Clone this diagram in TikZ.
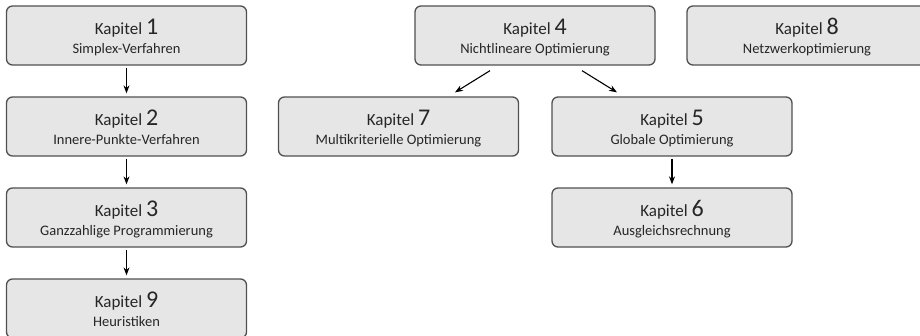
\documentclass[tikz,border=0pt]{standalone}
\usepackage{fontspec}
\setmainfont{Carlito}
\usetikzlibrary{arrows.meta}
\definecolor{boxfill}{HTML}{E6E6E6}
\definecolor{boxline}{HTML}{505050}
\definecolor{txt}{HTML}{262626}
\tikzset{
  chapbox/.style={draw=boxline, fill=boxfill, line width=1.3pt, rounded corners=6pt,
    minimum width=240pt, minimum height=59pt, inner sep=0pt},
  kaptxt/.style={anchor=base, inner sep=0pt, text=txt, font=\fontsize{17pt}{17pt}\selectfont},
  subtxt/.style={anchor=base, inner sep=0pt, text=txt, font=\fontsize{14.5pt}{14.5pt}\selectfont},
  arr/.style={-{Stealth[length=8pt,width=6pt]}, line width=1.1pt, draw=black},
}
\newcommand\mkchap[4]{%
  \node[chapbox] (#1) at (#2) {};
  \node[kaptxt] (#1k) at ([yshift=1pt]#1.center) {Kapitel {\fontsize{24pt}{24pt}\selectfont #3}};
  \node[subtxt] (#1s) at ([yshift=-18pt]#1.center) {#4};
}
\begin{document}
\begin{tikzpicture}[x=1pt,y=-1pt]
\useasboundingbox (0,0) rectangle (920,335);
\clip (0,0) rectangle (920,335);
\mkchap{b1}{126.5,35.5}{1}{Simplex-Verfahren}
\mkchap{b2}{126.5,126.5}{2}{Innere-Punkte-Verfahren}
\mkchap{b3}{126.5,217.5}{3}{Ganzzahlige Programmierung}
\mkchap{b9}{126.5,308.5}{9}{Heuristiken}
\mkchap{b4}{535,35.5}{4}{Nichtlineare Optimierung}
\mkchap{b8}{807,35.5}{8}{Netzwerkoptimierung}
\mkchap{b7}{398.5,126.5}{7}{Multikriterielle Optimierung}
\mkchap{b5}{672,126.5}{5}{Globale Optimierung}
\mkchap{b6}{672,217.5}{6}{Ausgleichsrechnung}
\draw[arr, shorten <=2pt, shorten >=3pt] (b1) -- (b2);
\draw[arr, shorten <=2pt, shorten >=3pt] (b2) -- (b3);
\draw[arr, shorten <=2pt, shorten >=3pt] (b3) -- (b9);
\draw[arr, shorten <=2pt, shorten >=3pt] (b5) -- (b6);
\draw[arr] ([xshift=-45pt,yshift=-5pt]b4.south) -- ([xshift=56.5pt,yshift=4pt]b7.north);
\draw[arr] ([xshift=47pt,yshift=-5pt]b4.south) -- ([xshift=-55pt,yshift=4pt]b5.north);
\end{tikzpicture}
\end{document}
